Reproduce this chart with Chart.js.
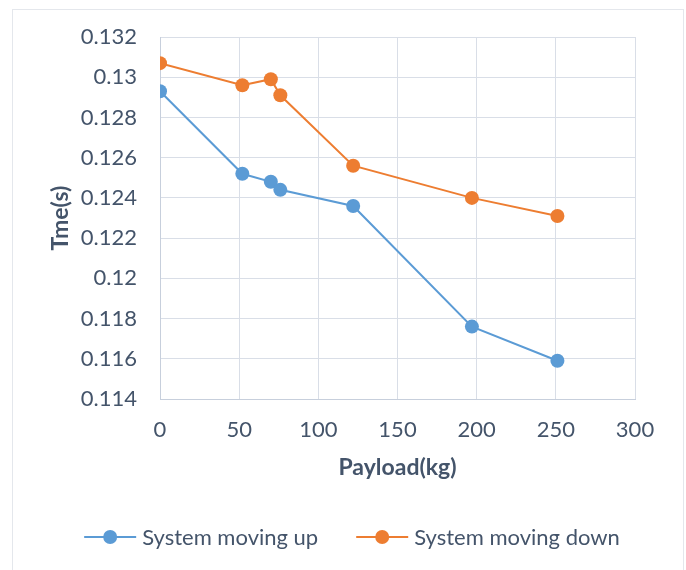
<!DOCTYPE html>
<html>
<head>
<meta charset="utf-8">
<title>Payload vs Time</title>
<script src="https://cdn.jsdelivr.net/npm/chart.js@4/dist/chart.umd.min.js"></script>
<style>
  html, body { margin: 0; padding: 0; background: #ffffff; }
  #wrap { width: 686px; height: 570px; }
</style>
</head>
<body>
<div id="wrap"><canvas id="chart" width="686" height="570"></canvas></div>
<script>
// Payload (kg) at which each run was measured
const payloadKg = [0, 52, 70, 76, 122, 197, 251];
// Travel time (s) for each direction
const timeUp = [0.1293, 0.1252, 0.1248, 0.1244, 0.1236, 0.1176, 0.1159];
const timeDown = [0.1307, 0.1296, 0.1299, 0.1291, 0.1256, 0.1240, 0.1231];
// Axis ticks
const xTicks = [0, 50, 100, 150, 200, 250, 300];
const yTicks = [0.114, 0.116, 0.118, 0.12, 0.122, 0.124, 0.126, 0.128, 0.13, 0.132];

const seriesNames = ['System moving up', 'System moving down'];
const BLUE = '#5b9bd5';
const ORANGE = '#ed7d31';
const TEXT = '#44546a';
const FONT = 'Lato, "Open Sans", sans-serif';

const toPoints = (xs, ys) => xs.map((x, i) => ({ x: x, y: ys[i] }));

// White page with the thin outer frame
const framePlugin = {
  id: 'frame',
  beforeDraw(chart) {
    const ctx = chart.ctx;
    ctx.save();
    ctx.fillStyle = '#ffffff';
    ctx.fillRect(0, 0, chart.width, chart.height);
    ctx.strokeStyle = '#e4e7ec';
    ctx.lineWidth = 1;
    ctx.strokeRect(12.5, 9.5, 671, 620);
    ctx.restore();
  }
};

// Legend drawn below the axis: short line with a dot, then the name
const lineLegend = {
  id: 'lineLegend',
  afterDraw(chart) {
    const ctx = chart.ctx;
    const y = 537;
    const centerX = 352;
    const seg = 52, gapText = 6, gapItems = 38;
    ctx.save();
    ctx.font = '22px ' + FONT;
    ctx.textBaseline = 'middle';
    const items = chart.data.datasets.map(ds => ({
      label: ds.label, color: ds.borderColor, w: ctx.measureText(ds.label).width
    }));
    const total = items.reduce((s, it) => s + seg + gapText + it.w, 0) + gapItems * (items.length - 1);
    let x = centerX - total / 2;
    items.forEach(it => {
      ctx.strokeStyle = it.color;
      ctx.lineWidth = 2;
      ctx.beginPath();
      ctx.moveTo(x, y);
      ctx.lineTo(x + seg, y);
      ctx.stroke();
      ctx.fillStyle = it.color;
      ctx.beginPath();
      ctx.arc(x + seg / 2, y, 7, 0, Math.PI * 2);
      ctx.fill();
      ctx.fillStyle = TEXT;
      ctx.textAlign = 'left';
      ctx.fillText(it.label, x + seg + gapText, y + 1);
      x += seg + gapText + it.w + gapItems;
    });
    ctx.restore();
  }
};

new Chart(document.getElementById('chart'), {
  type: 'line',
  data: {
    datasets: [
      {
        label: seriesNames[0],
        data: toPoints(payloadKg, timeUp),
        borderColor: BLUE,
        backgroundColor: BLUE,
        borderWidth: 2,
        pointRadius: 7,
        pointHoverRadius: 7,
        pointBorderWidth: 0,
        tension: 0
      },
      {
        label: seriesNames[1],
        data: toPoints(payloadKg, timeDown),
        borderColor: ORANGE,
        backgroundColor: ORANGE,
        borderWidth: 2,
        pointRadius: 7,
        pointHoverRadius: 7,
        pointBorderWidth: 0,
        tension: 0
      }
    ]
  },
  options: {
    responsive: false,
    animation: false,
    layout: { padding: { left: 0, top: 37, right: 51, bottom: 71 } },
    plugins: {
      legend: { display: false },
      tooltip: { enabled: false }
    },
    scales: {
      x: {
        type: 'linear',
        min: 0,
        max: 300,
        afterBuildTicks: s => { s.ticks = xTicks.map(v => ({ value: v })); },
        afterFit: s => { s.height = 100; },
        grid: { color: '#d9dee7', drawTicks: false, lineWidth: 1 },
        border: { color: '#c7cfdc', width: 1 },
        ticks: {
          color: TEXT,
          font: { family: FONT, size: 22 },
          padding: 18,
          maxRotation: 0
        },
        title: {
          display: true,
          text: 'Payload(kg)',
          color: TEXT,
          font: { family: FONT, size: 23, weight: 'bold' },
          padding: { top: 0, bottom: 18 }
        }
      },
      y: {
        type: 'linear',
        min: 0.114,
        max: 0.132,
        afterBuildTicks: s => { s.ticks = yTicks.map(v => ({ value: v })); },
        afterFit: s => { s.width = 160; },
        grid: { color: '#d9dee7', drawTicks: false, lineWidth: 1 },
        border: { color: '#c7cfdc', width: 1 },
        ticks: {
          color: TEXT,
          font: { family: FONT, size: 22 },
          padding: 23,
          callback: v => String(+v.toFixed(3))
        },
        title: {
          display: true,
          text: 'Tme(s)',
          color: TEXT,
          font: { family: FONT, size: 23, weight: 'bold' },
          padding: { top: 47, bottom: 0 }
        }
      }
    }
  },
  plugins: [framePlugin, lineLegend]
});
</script>
</body>
</html>
